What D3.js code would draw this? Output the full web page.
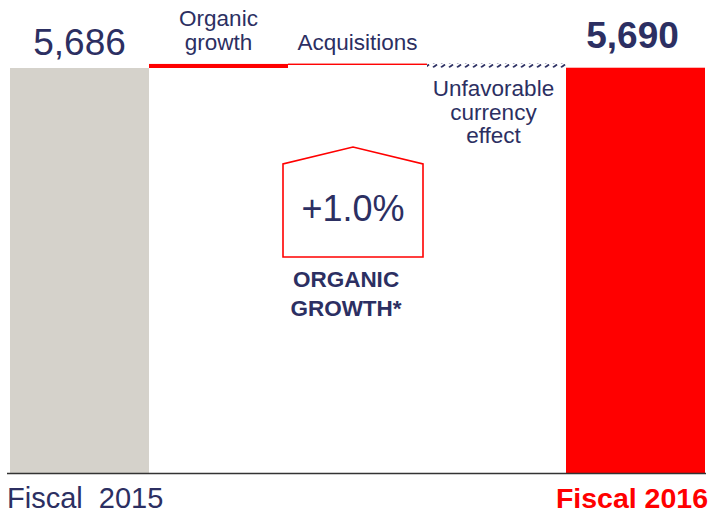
<!DOCTYPE html>
<html>
<head>
<meta charset="utf-8">
<script src="https://cdn.jsdelivr.net/npm/d3@7"></script>
<style>
  body { margin: 0; background: #fff; }
  svg { display: block; font-family: "Liberation Sans", Arial, sans-serif; }
</style>
</head>
<body>
<svg id="chart"></svg>
<script>
// waterfall data
const steps = ["Fiscal 2015", "Organic growth", "Acquisitions", "Unfavorable currency effect", "Fiscal 2016"];
const values = [5686, 57, 5, -58, 5690];
const kinds = ["total", "delta", "delta", "delta", "total"];
const organicGrowth = "+1.0%";

const width = 713, height = 513;
const navy = "#2c2f62";
const red = "#ff0000";

const svg = d3.select("#chart")
  .attr("width", width)
  .attr("height", height);

const defs = svg.append("defs");
// hatch for the currency bar
const hatch = defs.append("pattern")
  .attr("id", "hatch")
  .attr("patternUnits", "userSpaceOnUse")
  .attr("width", 8)
  .attr("height", 4);
hatch.append("rect").attr("width", 8).attr("height", 4).attr("fill", "#fff");
hatch.append("path")
  .attr("d", "M1,3.5 L5,0.5")
  .attr("stroke", navy)
  .attr("stroke-width", 1.8);

const x = d3.scaleBand()
  .domain(steps)
  .range([10, 705])
  .padding(0);

const y = d3.scaleLinear()
  .domain([0, 5686])
  .range([473, 68]);

// running totals for the floating bars
let running = 0;
const bars = steps.map((s, i) => {
  let start, end;
  if (kinds[i] === "total") {
    start = 0; end = values[i]; running = values[i];
  } else {
    start = running; end = running + values[i]; running = end;
  }
  return { step: s, start, end, i };
});

const fills = ["#d5d2cb", red, red, "url(#hatch)", red];

svg.selectAll(".bar")
  .data(bars)
  .join("rect")
    .classed("bar", true)
    .attr("x", d => x(d.step))
    .attr("width", x.bandwidth())
    .attr("y", d => y(Math.max(d.start, d.end)))
    .attr("height", d => Math.max(1.4, Math.abs(y(d.start) - y(d.end))))
    .attr("fill", d => fills[d.i]);

// baseline
svg.append("line")
  .attr("x1", 7).attr("x2", 706)
  .attr("y1", y(0) + 0.5).attr("y2", y(0) + 0.5)
  .attr("stroke", "#333")
  .attr("stroke-width", 1.5);

// value labels
svg.append("text")
  .attr("x", x(steps[0]) + x.bandwidth() / 2)
  .attr("y", 55)
  .attr("text-anchor", "middle")
  .attr("font-size", 37)
  .attr("fill", navy)
  .text(d3.format(",")(values[0]));

svg.append("text")
  .attr("x", x(steps[4]) + x.bandwidth() / 2 - 3)
  .attr("y", 48)
  .attr("text-anchor", "middle")
  .attr("font-size", 37)
  .attr("font-weight", "bold")
  .attr("fill", navy)
  .text(d3.format(",")(values[4]));

// step labels
const stepLabels = [
  { lines: ["Organic", "growth"], i: 1, y0: 26, dx: 0 },
  { lines: ["Acquisitions"], i: 2, y0: 50, dx: 0 },
  { lines: ["Unfavorable", "currency", "effect"], i: 3, y0: 96, dx: -3 }
];
stepLabels.forEach(l => {
  const t = svg.append("text")
    .attr("text-anchor", "middle")
    .attr("font-size", 22.5)
    .attr("fill", navy);
  l.lines.forEach((line, k) => {
    t.append("tspan")
      .attr("x", x(steps[l.i]) + x.bandwidth() / 2 + l.dx)
      .attr("y", l.y0 + k * 23.5)
      .text(line);
  });
});

// organic growth callout
svg.append("path")
  .attr("d", "M283,257 L283,164 L353,147 L423,164 L423,257 Z")
  .attr("fill", "none")
  .attr("stroke", red)
  .attr("stroke-width", 1.6);

svg.append("text")
  .attr("x", 353)
  .attr("y", 221)
  .attr("text-anchor", "middle")
  .attr("font-size", 36)
  .attr("fill", navy)
  .text(organicGrowth);

const og = svg.append("text")
  .attr("text-anchor", "middle")
  .attr("font-size", 22.5)
  .attr("font-weight", "bold")
  .attr("fill", navy);
["ORGANIC", "GROWTH*"].forEach((line, k) => {
  og.append("tspan")
    .attr("x", 346)
    .attr("y", 287 + k * 29)
    .text(line);
});

// category labels
svg.append("text")
  .attr("x", 7)
  .attr("y", 508)
  .attr("font-size", 29)
  .attr("fill", navy)
  .style("white-space", "pre")
  .text("Fiscal  2015");

svg.append("text")
  .attr("x", 708)
  .attr("y", 508)
  .attr("text-anchor", "end")
  .attr("font-size", 28.5)
  .attr("font-weight", "bold")
  .attr("fill", red)
  .text("Fiscal 2016");
</script>
</body>
</html>
